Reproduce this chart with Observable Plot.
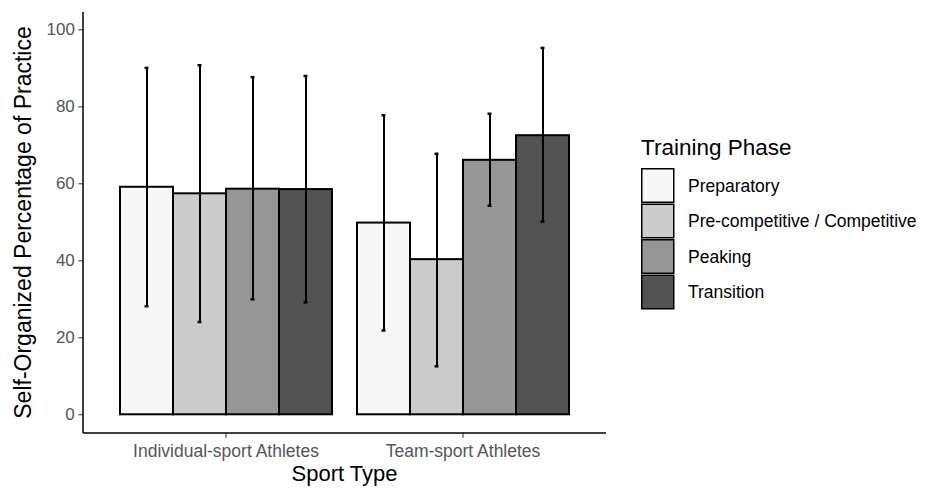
<!DOCTYPE html>
<html>
<head>
<meta charset="utf-8">
<script src="https://cdn.jsdelivr.net/npm/d3@7"></script>
<script src="https://cdn.jsdelivr.net/npm/@observablehq/plot@0.6"></script>
<style>
  body { margin: 0; background: #fff; }
  #chart { position: relative; width: 930px; height: 488px; }
  svg { font-family: "Liberation Sans", Arial, sans-serif; }
</style>
</head>
<body>
<div id="chart"></div>
<script>
// Self-organized share of practice by sport type and training phase (mean ± SD)
const sports = ["Individual-sport Athletes", "Team-sport Athletes"];
const phases = ["Preparatory", "Pre-competitive / Competitive", "Peaking", "Transition"];
const phaseFills = ["#f7f7f7", "#cccccc", "#969696", "#525252"];

const individualMean = [59.1, 57.4, 58.6, 58.5];
const individualLow  = [28.2, 24.1, 30.0, 29.2];
const individualHigh = [90.1, 90.8, 87.7, 88.0];

const teamMean = [49.8, 40.3, 66.1, 72.5];
const teamLow  = [21.9, 12.6, 54.3, 50.2];
const teamHigh = [77.8, 67.8, 78.2, 95.3];

const yTicks = [0, 20, 40, 60, 80, 100];

const rows = [];
phases.forEach((p, i) => {
  rows.push({sport: sports[0], phase: p, mean: individualMean[i], low: individualLow[i], high: individualHigh[i]});
  rows.push({sport: sports[1], phase: p, mean: teamMean[i], low: teamLow[i], high: teamHigh[i]});
});

const W = 930, H = 488;
const mL = 83, mR = 324, mT = 12, mB = 55;
const fxPadInner = 0.1, fxPadOuter = 0.15;

// the y axis belongs to the leftmost facet; shift it back to the panel edge
const fxBand = d3.scaleBand().domain(sports).range([mL, W - mR])
  .paddingInner(fxPadInner).paddingOuter(fxPadOuter);
const facetOffset = fxBand(sports[0]) - mL;
const capInset = fxBand.bandwidth() / phases.length / 2 - 2.2;

const plot = Plot.plot({
  width: W,
  height: H,
  marginLeft: mL,
  marginRight: mR,
  marginTop: mT,
  marginBottom: mB,
  style: {fontFamily: "Liberation Sans, Arial, sans-serif", background: "white"},
  fx: {domain: sports, paddingInner: fxPadInner, paddingOuter: fxPadOuter, label: null, axis: null},
  x: {domain: phases, padding: 0, axis: null},
  y: {domain: [-4.86, 104.5], label: null, axis: null},
  color: {domain: phases, range: phaseFills},
  marks: [
    Plot.barY(rows, {fx: "sport", x: "phase", y: "mean", fill: "phase", stroke: "black", strokeWidth: 2}),
    Plot.ruleX(rows, {fx: "sport", x: "phase", y1: "low", y2: "high", stroke: "black", strokeWidth: 2}),
    Plot.tickY(rows, {fx: "sport", x: "phase", y: "low", stroke: "black", strokeWidth: 2.5, insetLeft: capInset, insetRight: capInset}),
    Plot.tickY(rows, {fx: "sport", x: "phase", y: "high", stroke: "black", strokeWidth: 2.5, insetLeft: capInset, insetRight: capInset}),
    Plot.axisY({ticks: yTicks, tickSize: 5, tickPadding: 4, fontSize: 17, fill: "#555", stroke: "#333", label: null, dx: -facetOffset}),
    Plot.axisFx({anchor: "bottom", tickSize: 5, tickPadding: 6.5, fontSize: 17.5, fill: "#555", stroke: "#333", label: null})
  ]
});

document.getElementById("chart").appendChild(plot);

const svg = d3.select(plot);
const color = plot.scale("color");

// axis lines (classic theme: left and bottom only)
svg.append("line")
  .attr("x1", mL).attr("x2", mL).attr("y1", mT).attr("y2", H - mB)
  .attr("stroke", "black").attr("stroke-width", 1.5);
svg.append("line")
  .attr("x1", mL).attr("x2", W - mR).attr("y1", H - mB).attr("y2", H - mB)
  .attr("stroke", "black").attr("stroke-width", 1.5);

// axis titles
svg.append("text")
  .attr("transform", `translate(23,${(mT + H - mB) / 2}) rotate(-90)`)
  .attr("text-anchor", "middle").attr("dominant-baseline", "central")
  .attr("font-size", 23).attr("fill", "black")
  .text("Self-Organized Percentage of Practice");
svg.append("text")
  .attr("x", (mL + W - mR) / 2).attr("y", 481)
  .attr("text-anchor", "middle")
  .attr("font-size", 22).attr("fill", "black")
  .text("Sport Type");

// legend
const lg = svg.append("g").attr("transform", "translate(641,0)").attr("text-anchor", "start");
lg.append("text")
  .attr("x", 0).attr("y", 155)
  .attr("font-size", 22.5).attr("fill", "black")
  .text("Training Phase");
phases.forEach((p, i) => {
  const y0 = 168 + i * 35.5;
  lg.append("rect")
    .attr("x", 0.75).attr("y", y0 + 0.75).attr("width", 32).attr("height", 33.5)
    .attr("fill", color.apply(p)).attr("stroke", "black").attr("stroke-width", 1.5);
  lg.append("text")
    .attr("x", 47).attr("y", y0 + 17.5)
    .attr("dominant-baseline", "central")
    .attr("font-size", 17.5).attr("fill", "black")
    .text(p);
});
</script>
</body>
</html>
